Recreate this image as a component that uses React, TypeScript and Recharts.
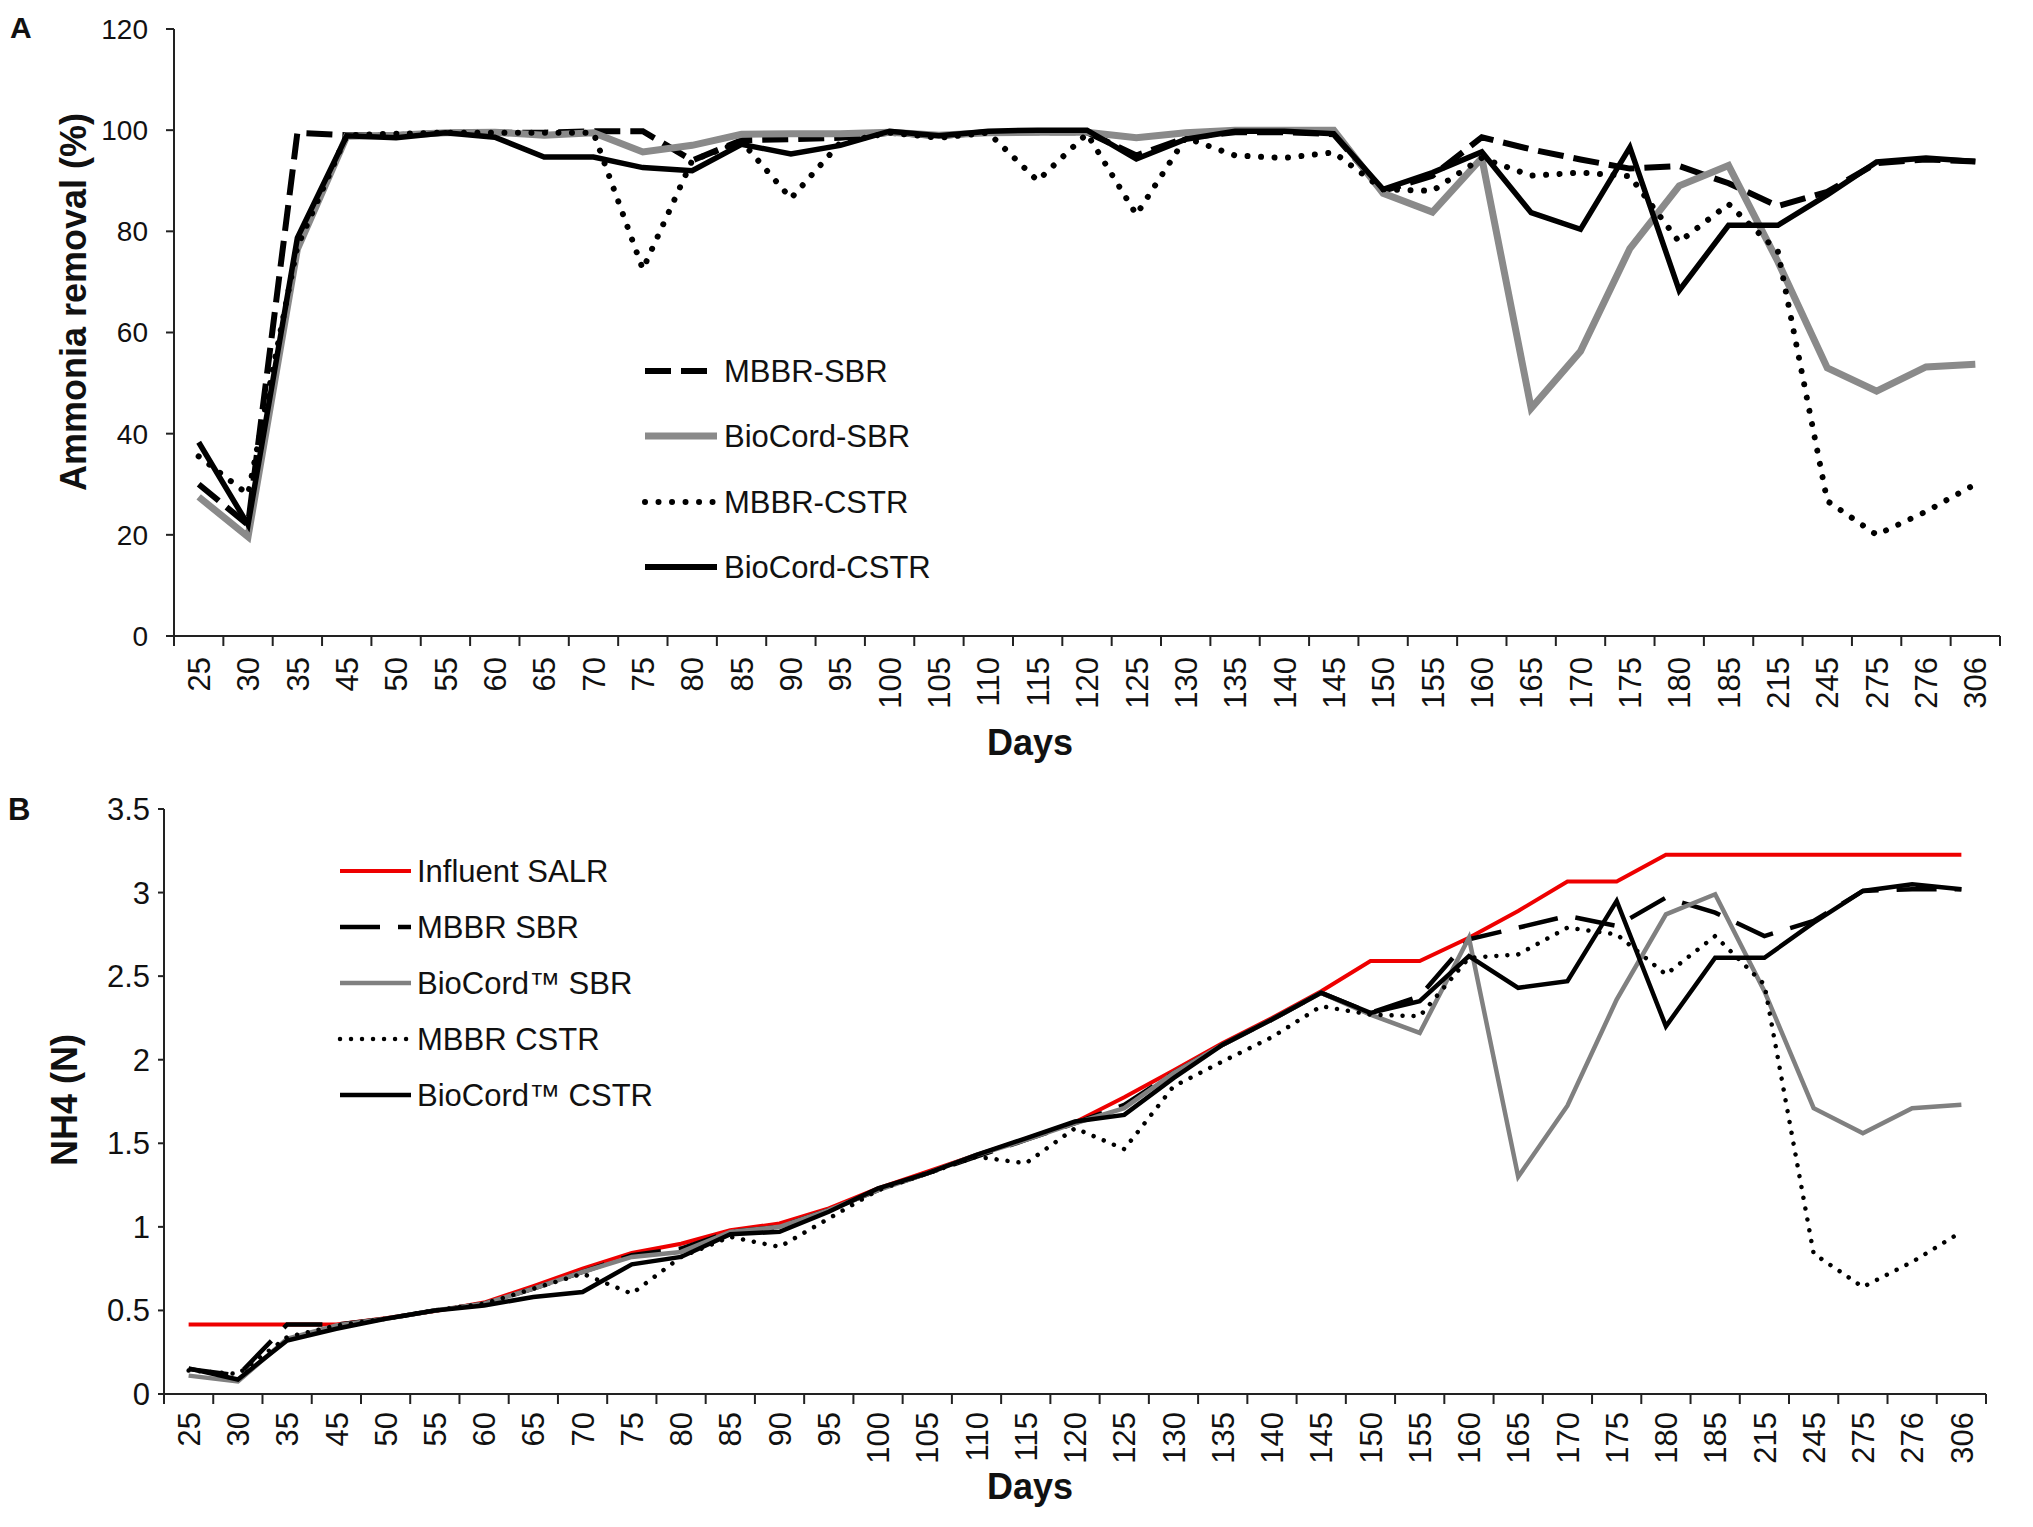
import React from 'react';
import { LineChart, Line, XAxis, YAxis, Legend } from 'recharts';

const days = ['25','30','35','45','50','55','60','65','70','75','80','85','90','95','100','105','110','115','120','125','130','135','140','145','150','155','160','165','170','175','180','185','215','245','275','276','306'];

// Panel A: ammonia removal (%)
const mbbrSbrA = [30,22,99.5,99,99,99.5,99.5,99.5,99.8,99.8,94,98,98.2,98.5,99.5,98.8,99.6,99.6,99.6,95,98.5,99.6,99.6,99.2,88,91,98.6,96.2,94.2,92.4,92.9,89.5,85,87.8,93.5,94.2,93.8];
const bioSbrA = [27.5,19.6,76.5,98.8,99,99.5,99.6,99,99.5,95.7,97,99.2,99.3,99.3,99.6,99,99.5,99.6,99.6,98.5,99.5,100,100,100,87.5,83.8,94.5,45,56.3,76.6,89,93,74,53,48.4,53.2,53.7];
const mbbrCstrA = [35.5,28,77,99,99.3,99.5,99.5,99.5,99.5,72.5,94,97.8,86.5,97.5,99.5,98.5,99.5,90,99.3,83.3,98.5,95,94.5,95.6,88.3,88,94.5,91,91.6,90.9,77.9,85.4,76,26.7,20,24.6,30];
const bioCstrA = [38.3,22,78.7,98.9,98.5,99.5,98.6,94.7,94.7,92.6,92,97.2,95.3,97,99.8,98.9,99.8,100,100,94.3,98.2,99.8,99.8,99.3,88.3,91.6,95.7,83.7,80.4,96.6,68.3,81.2,81.2,87.2,93.7,94.5,93.8];
const ticksA = [0,20,40,60,80,100,120];

// Panel B: NH4 (N)
const influentB = [0.416,0.416,0.416,0.416,0.454,0.496,0.547,0.645,0.75,0.844,0.899,0.98,1.02,1.11,1.23,1.33,1.43,1.527,1.626,1.775,1.936,2.1,2.25,2.41,2.59,2.59,2.73,2.89,3.066,3.066,3.227,3.227,3.227,3.227,3.227,3.227,3.227];
const mbbrSbrB = [0.15,0.11,0.416,0.415,0.45,0.5,0.54,0.63,0.73,0.83,0.87,0.97,1.0,1.1,1.22,1.32,1.42,1.52,1.62,1.73,1.92,2.09,2.24,2.4,2.28,2.38,2.72,2.79,2.86,2.8,2.97,2.88,2.74,2.83,3.01,3.02,3.02];
const bioSbrB = [0.11,0.075,0.33,0.41,0.45,0.5,0.54,0.63,0.73,0.82,0.85,0.97,1.0,1.1,1.22,1.32,1.43,1.52,1.62,1.71,1.92,2.09,2.24,2.4,2.27,2.16,2.73,1.3,1.725,2.36,2.87,2.99,2.41,1.71,1.56,1.71,1.73];
const mbbrCstrB = [0.14,0.12,0.34,0.41,0.45,0.5,0.54,0.63,0.72,0.6,0.82,0.94,0.88,1.05,1.22,1.32,1.42,1.38,1.59,1.465,1.84,1.99,2.135,2.32,2.27,2.26,2.61,2.63,2.79,2.75,2.51,2.74,2.45,0.84,0.64,0.79,0.97];
const bioCstrB = [0.153,0.087,0.32,0.39,0.45,0.5,0.53,0.58,0.61,0.776,0.82,0.956,0.97,1.09,1.23,1.32,1.43,1.53,1.63,1.67,1.89,2.09,2.24,2.4,2.28,2.35,2.62,2.43,2.47,2.95,2.2,2.61,2.61,2.82,3.01,3.05,3.02];
const ticksB = [0,0.5,1,1.5,2,2.5,3,3.5];

const dataA = days.map((d, i) => ({ day: d, mbbrSbr: mbbrSbrA[i], bioSbr: bioSbrA[i], mbbrCstr: mbbrCstrA[i], bioCstr: bioCstrA[i] }));
const dataB = days.map((d, i) => ({ day: d, influent: influentB[i], mbbrSbr: mbbrSbrB[i], bioSbr: bioSbrB[i], mbbrCstr: mbbrCstrB[i], bioCstr: bioCstrB[i] }));

const FONT = '"Liberation Sans", Arial, Helvetica, sans-serif';
const W = 2033;
const AXIS = '#222';

// layout
const A_H = 785;
const A_MARGIN = { top: 29, right: 33, left: 0, bottom: 49 };
const A_YW = 174;
const A_BW = (W - A_MARGIN.right - A_YW) / days.length;

const B_TOP = 760;
const B_H = 767;
const B_MARGIN = { top: 49, right: 47, left: 0, bottom: 33 };
const B_YW = 164;
const B_BW = (W - B_MARGIN.right - B_YW) / days.length;

const makeXTick = (bw: number, gap: number, fontSize: number) => (props: any) => {
  const { x, y, payload, index } = props;
  const last = index === days.length - 1;
  return (
    <g>
      <line x1={x - bw / 2} x2={x - bw / 2} y1={y} y2={y + 10} stroke={AXIS} strokeWidth={2} />
      {last && <line x1={x + bw / 2} x2={x + bw / 2} y1={y} y2={y + 10} stroke={AXIS} strokeWidth={2} />}
      <text
        transform={`translate(${x},${y + gap}) rotate(-90)`}
        textAnchor="end"
        dy="0.36em"
        fontSize={fontSize}
        fontFamily={FONT}
        fill="#111"
      >
        {payload.value}
      </text>
    </g>
  );
};

const Title = (props: any) => {
  const { px, py, text, rot, size, anchor } = props;
  return (
    <text
      x={px}
      y={py}
      transform={rot ? `rotate(-90 ${px} ${py})` : undefined}
      textAnchor={anchor || 'middle'}
      fontSize={size}
      fontWeight="bold"
      fontFamily={FONT}
      fill="#111"
    >
      {text}
    </text>
  );
};

const YTitle = (props: any) => {
  const { px, py, text, letter, lx, ly, lsize } = props;
  return (
    <g>
      <Title px={px} py={py} text={text} rot size={36} />
      <Title px={lx} py={ly} text={letter} size={lsize} anchor="start" />
    </g>
  );
};

type LegendItem = { label: string; color: string; width: number; dash?: string; cap?: string };

const legendAItems: LegendItem[] = [
  { label: 'MBBR-SBR', color: '#000', width: 6, dash: '26 10' },
  { label: 'BioCord-SBR', color: '#8a8a8a', width: 7 },
  { label: 'MBBR-CSTR', color: '#000', width: 6, dash: '0.01 13.5', cap: 'round' },
  { label: 'BioCord-CSTR', color: '#000', width: 6 },
];
const legendBItems: LegendItem[] = [
  { label: 'Influent SALR', color: '#ee0000', width: 4 },
  { label: 'MBBR SBR', color: '#000', width: 4.5, dash: '40 18' },
  { label: 'BioCord\u2122 SBR', color: '#808080', width: 4.5 },
  { label: 'MBBR CSTR', color: '#000', width: 4.5, dash: '0.01 11', cap: 'round' },
  { label: 'BioCord\u2122 CSTR', color: '#000', width: 4.5 },
];

const makeLegend = (items: LegendItem[], rows: number[], x0: number, x1: number, tx: number, w: number, h: number) => () => (
  <svg width={w} height={h} style={{ display: 'block', overflow: 'visible' }}>
    {items.map((it, i) => (
      <g key={it.label}>
        <line
          x1={x0}
          x2={x1}
          y1={rows[i]}
          y2={rows[i]}
          stroke={it.color}
          strokeWidth={it.width}
          strokeDasharray={it.dash}
          strokeLinecap={(it.cap as any) || 'butt'}
        />
        <text x={tx} y={rows[i]} dy="0.36em" fontSize={31} fontFamily={FONT} fill="#111">
          {it.label}
        </text>
      </g>
    ))}
  </svg>
);

const LegendA = makeLegend(legendAItems, [36, 101, 167, 232], 5, 77, 84, 440, 300);
const LegendB = makeLegend(legendBItems, [31, 87, 143, 199, 255], 5, 76, 82, 440, 320);

export default function App() {
  return (
    <div style={{ position: 'absolute', left: 0, top: 0, width: W, height: 1527, background: '#fff', fontFamily: FONT, overflow: 'hidden' }}>
      <div style={{ position: 'absolute', left: 0, top: 0 }}>
        <LineChart width={W} height={A_H} data={dataA} margin={A_MARGIN}>
          <XAxis
            dataKey="day"
            scale="band"
            interval={0}
            tickLine={false}
            tickSize={0}
            tickMargin={0}
            height={100}
            axisLine={{ stroke: AXIS, strokeWidth: 2 }}
            tick={makeXTick(A_BW, 21, 31)}
            label={<Title px={1030} py={755} text="Days" size={36} />}
          />
          <YAxis
            width={A_YW}
            domain={[0, 120]}
            ticks={ticksA}
            interval={0}
            tickSize={8}
            tickMargin={18}
            axisLine={{ stroke: AXIS, strokeWidth: 2 }}
            tickLine={{ stroke: AXIS, strokeWidth: 2 }}
            tick={{ fontSize: 28, fontFamily: FONT, fill: '#111' }}
            label={<YTitle px={86} py={302} text="Ammonia removal (%)" letter="A" lx={10} ly={38} lsize={30} />}
          />
          <Legend layout="vertical" align="center" verticalAlign="middle" content={LegendA} wrapperStyle={{ left: 640, top: 335, width: 440, height: 300 }} />
          <Line dataKey="mbbrSbr" type="linear" stroke="#000" strokeWidth={6} strokeDasharray="26 10" dot={false} activeDot={false} isAnimationActive={false} />
          <Line dataKey="bioSbr" type="linear" stroke="#8a8a8a" strokeWidth={7} dot={false} activeDot={false} isAnimationActive={false} />
          <Line dataKey="mbbrCstr" type="linear" stroke="#000" strokeWidth={6} strokeDasharray="0.01 13.5" strokeLinecap="round" dot={false} activeDot={false} isAnimationActive={false} />
          <Line dataKey="bioCstr" type="linear" stroke="#000" strokeWidth={5.5} dot={false} activeDot={false} isAnimationActive={false} />
        </LineChart>
      </div>
      <div style={{ position: 'absolute', left: 0, top: B_TOP }}>
        <LineChart width={W} height={B_H} data={dataB} margin={B_MARGIN}>
          <XAxis
            dataKey="day"
            scale="band"
            interval={0}
            tickLine={false}
            tickSize={0}
            tickMargin={0}
            height={100}
            axisLine={{ stroke: AXIS, strokeWidth: 2 }}
            tick={makeXTick(B_BW, 18, 31)}
            label={<Title px={1030} py={739} text="Days" size={36} />}
          />
          <YAxis
            width={B_YW}
            domain={[0, 3.5]}
            ticks={ticksB}
            interval={0}
            tickSize={6}
            tickMargin={8}
            axisLine={{ stroke: AXIS, strokeWidth: 2 }}
            tickLine={{ stroke: AXIS, strokeWidth: 2 }}
            tick={{ fontSize: 31, fontFamily: FONT, fill: '#111' }}
            label={<YTitle px={77} py={340} text="NH4 (N)" letter="B" lx={8} ly={60} lsize={31} />}
          />
          <Legend layout="vertical" align="center" verticalAlign="middle" content={LegendB} wrapperStyle={{ left: 335, top: 80, width: 440, height: 320 }} />
          <Line dataKey="influent" type="linear" stroke="#ee0000" strokeWidth={4} dot={false} activeDot={false} isAnimationActive={false} />
          <Line dataKey="mbbrSbr" type="linear" stroke="#000" strokeWidth={4.5} strokeDasharray="40 18" dot={false} activeDot={false} isAnimationActive={false} />
          <Line dataKey="bioSbr" type="linear" stroke="#808080" strokeWidth={4.5} dot={false} activeDot={false} isAnimationActive={false} />
          <Line dataKey="mbbrCstr" type="linear" stroke="#000" strokeWidth={4.5} strokeDasharray="0.01 11" strokeLinecap="round" dot={false} activeDot={false} isAnimationActive={false} />
          <Line dataKey="bioCstr" type="linear" stroke="#000" strokeWidth={4.5} dot={false} activeDot={false} isAnimationActive={false} />
        </LineChart>
      </div>
    </div>
  );
}
